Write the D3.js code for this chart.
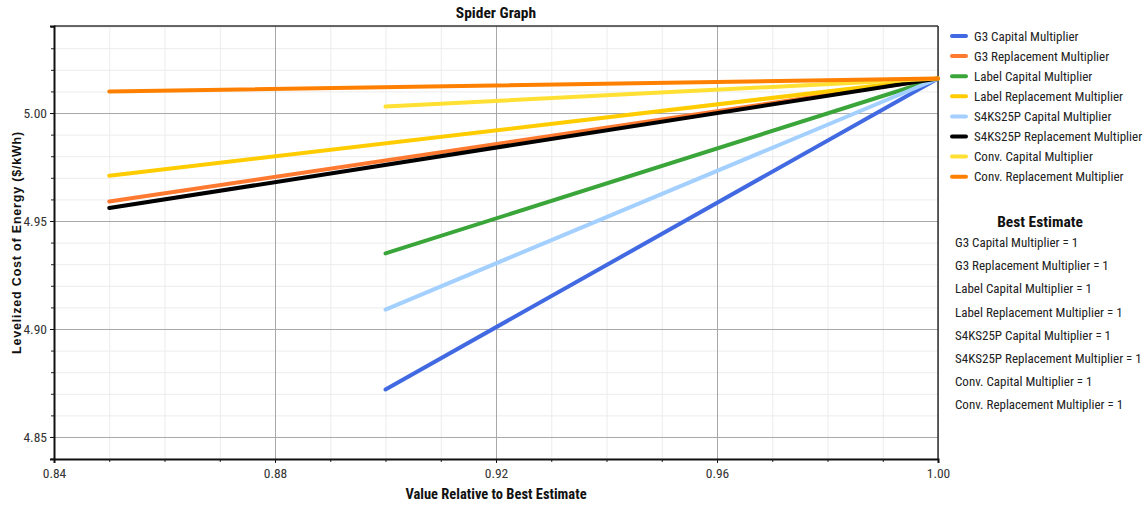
<!DOCTYPE html>
<html>
<head>
<meta charset="utf-8">
<script src="https://cdn.jsdelivr.net/npm/d3@7"></script>
<style>
  body { margin: 0; background: #fff; }
  svg { display: block; }
</style>
</head>
<body>
<div id="chart"></div>
<script>
// Series in legend order
const seriesNames = [
  "G3 Capital Multiplier",
  "G3 Replacement Multiplier",
  "Label Capital Multiplier",
  "Label Replacement Multiplier",
  "S4KS25P Capital Multiplier",
  "S4KS25P Replacement Multiplier",
  "Conv. Capital Multiplier",
  "Conv. Replacement Multiplier"
];
const seriesColors = ["#4169e1", "#ff7a30", "#3aa63a", "#ffcc00", "#a3d0ff", "#000000", "#ffe033", "#ff8000"];

// x = value relative to best estimate, y = levelized cost ($/kWh)
const seriesX = [
  [0.90, 1.00],
  [0.85, 1.00],
  [0.90, 1.00],
  [0.85, 1.00],
  [0.90, 1.00],
  [0.85, 1.00],
  [0.90, 1.00],
  [0.85, 1.00]
];
const seriesY = [
  [4.872, 5.016],
  [4.959, 5.016],
  [4.935, 5.016],
  [4.971, 5.016],
  [4.909, 5.016],
  [4.956, 5.016],
  [5.003, 5.016],
  [5.010, 5.016]
];
const bestEstimates = [1, 1, 1, 1, 1, 1, 1, 1];

const xTicks = [0.84, 0.88, 0.92, 0.96, 1.00];
const yTicks = [4.85, 4.90, 4.95, 5.00];

const W = 1146, H = 506;
const margin = { top: 26, right: 208, bottom: 47, left: 54 };
const iW = W - margin.left - margin.right;
const iH = H - margin.top - margin.bottom;
const NARROW = "'Liberation Sans Narrow', 'Arial Narrow', 'Roboto Condensed', sans-serif";

const svg = d3.select("#chart").append("svg")
  .attr("width", W).attr("height", H)
  .style("font-family", NARROW);

const g = svg.append("g").attr("transform", `translate(${margin.left},${margin.top})`);

const x = d3.scaleLinear().domain([0.84, 1.00]).range([0, iW]);
const y = d3.scaleLinear().domain([4.8398, 5.0403]).range([iH, 0]);

const minorX = d3.range(84, 101).map(v => v / 100);
const minorY = d3.range(484, 505).map(v => v / 100);

// minor gridlines
g.append("g")
  .call(d3.axisBottom(x).tickValues(minorX).tickSize(iH).tickFormat(""))
  .call(a => a.select(".domain").remove())
  .call(a => a.selectAll(".tick line").attr("stroke", "#ececec"));
g.append("g")
  .call(d3.axisLeft(y).tickValues(minorY).tickSize(-iW).tickFormat(""))
  .call(a => a.select(".domain").remove())
  .call(a => a.selectAll(".tick line").attr("stroke", "#ececec"));

// major gridlines
g.append("g")
  .call(d3.axisBottom(x).tickValues(xTicks).tickSize(iH).tickFormat(""))
  .call(a => a.select(".domain").remove())
  .call(a => a.selectAll(".tick line").attr("stroke", "#a8a8a8"));
g.append("g")
  .call(d3.axisLeft(y).tickValues(yTicks).tickSize(-iW).tickFormat(""))
  .call(a => a.select(".domain").remove())
  .call(a => a.selectAll(".tick line").attr("stroke", "#a8a8a8"));

// frame top / right
g.append("line").attr("x1", 0).attr("x2", iW).attr("y1", 0).attr("y2", 0)
  .attr("stroke", "#333").attr("stroke-width", 1.5);
g.append("line").attr("x1", iW).attr("x2", iW).attr("y1", 0).attr("y2", iH)
  .attr("stroke", "#333").attr("stroke-width", 1.5);

// lines
const line = d3.line().x(d => x(d[0])).y(d => y(d[1]));
seriesNames.forEach((name, i) => {
  const pts = seriesX[i].map((v, j) => [v, seriesY[i][j]]);
  g.append("path")
    .datum(pts)
    .attr("d", line)
    .attr("fill", "none")
    .attr("stroke", seriesColors[i])
    .attr("stroke-width", 4)
    .attr("stroke-linecap", "round");
});

// axes with minor ticks
g.append("g")
  .attr("transform", `translate(0,${iH})`)
  .call(d3.axisBottom(x).tickValues(minorX).tickSize(3).tickFormat(""))
  .call(a => a.select(".domain").remove())
  .call(a => a.selectAll(".tick line").attr("stroke", "#222"));
g.append("g")
  .call(d3.axisLeft(y).tickValues(minorY).tickSize(3).tickFormat(""))
  .call(a => a.select(".domain").remove())
  .call(a => a.selectAll(".tick line").attr("stroke", "#222"));

g.append("g")
  .attr("transform", `translate(0,${iH})`)
  .call(d3.axisBottom(x).tickValues(xTicks).tickSize(4).tickPadding(5).tickFormat(d3.format(".2f")))
  .call(a => a.select(".domain").attr("stroke", "#111").attr("stroke-width", 2))
  .call(a => a.selectAll(".tick line").attr("stroke", "#111"))
  .call(a => a.selectAll("text").attr("fill", "#333").attr("font-size", 13.5).attr("font-family", NARROW));

g.append("g")
  .call(d3.axisLeft(y).tickValues(yTicks).tickSize(4).tickPadding(3).tickFormat(d3.format(".2f")))
  .call(a => a.select(".domain").attr("stroke", "#111").attr("stroke-width", 2))
  .call(a => a.selectAll(".tick line").attr("stroke", "#111"))
  .call(a => a.selectAll("text").attr("fill", "#333").attr("font-size", 13.5).attr("font-family", NARROW));

// titles
svg.append("text")
  .attr("x", margin.left + iW / 2).attr("y", 18)
  .attr("text-anchor", "middle")
  .attr("font-size", 15.5).attr("font-weight", "bold").attr("fill", "#111")
  .text("Spider Graph");

svg.append("text")
  .attr("x", margin.left + iW / 2).attr("y", 499)
  .attr("text-anchor", "middle")
  .attr("font-size", 14.5).attr("font-weight", "bold").attr("fill", "#111")
  .text("Value Relative to Best Estimate");

svg.append("text")
  .attr("transform", `translate(21,${margin.top + iH / 2}) rotate(-90)`)
  .attr("text-anchor", "middle")
  .attr("font-family", "'Liberation Sans', Arial, sans-serif")
  .attr("font-size", 12.5).attr("font-weight", "bold").attr("fill", "#111")
  .attr("letter-spacing", 0.8)
  .text("Levelized Cost of Energy ($/kWh)");

// legend
const legend = svg.append("g").attr("transform", "translate(952,36)");
seriesNames.forEach((name, i) => {
  const row = legend.append("g").attr("transform", `translate(0,${i * 20.1})`);
  row.append("line").attr("x1", 0).attr("x2", 14).attr("y1", 0).attr("y2", 0)
    .attr("stroke", seriesColors[i]).attr("stroke-width", 4).attr("stroke-linecap", "round");
  row.append("text").attr("x", 22).attr("y", 4.5)
    .attr("font-size", 13).attr("fill", "#222").text(name);
});

// best estimate block
svg.append("text")
  .attr("x", 1040).attr("y", 227)
  .attr("text-anchor", "middle")
  .attr("font-size", 15.5).attr("font-weight", "bold").attr("fill", "#111")
  .text("Best Estimate");
seriesNames.forEach((name, i) => {
  svg.append("text")
    .attr("x", 955).attr("y", 247 + i * 23.2)
    .attr("font-size", 13).attr("fill", "#222")
    .text(`${name} = ${bestEstimates[i]}`);
});
</script>
</body>
</html>
